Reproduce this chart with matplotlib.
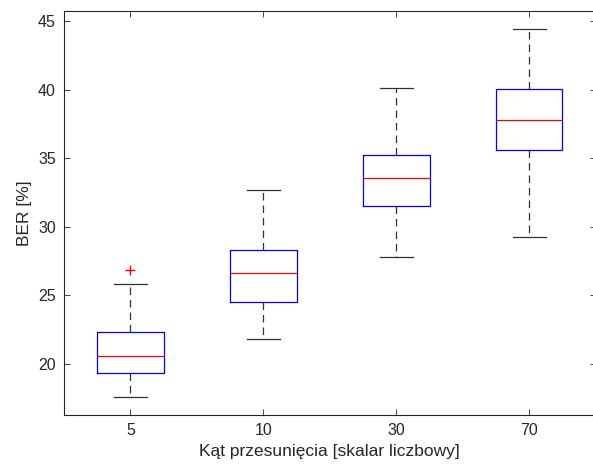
import matplotlib.pyplot as plt

# Values
labels = ["5", "10", "30", "70"]
whislo = [17.62, 21.82, 27.8, 29.23]
q1 = [19.37, 24.5, 31.54, 35.58]
med = [20.58, 26.6, 33.53, 37.76]
q3 = [22.35, 28.3, 35.2, 40.04]
whishi = [25.83, 32.68, 40.1, 44.44]
fliers = [[26.83], [], [], []]

plt.rcParams['font.family'] = ['Liberation Sans', 'DejaVu Sans']

stats = []
for i in range(len(labels)):
    stats.append({"label": labels[i], "whislo": whislo[i], "q1": q1[i], "med": med[i],
                  "q3": q3[i], "whishi": whishi[i], "fliers": fliers[i]})

fig = plt.figure(figsize=(5.93, 4.66), dpi=100)
ax = fig.add_axes([0.108, 0.1094, 0.8965, 0.8676])

ax.bxp(stats, positions=[1, 2, 3, 4], widths=0.5,
       boxprops=dict(color="#0000ff", linewidth=0.9),
       medianprops=dict(color="#ff0000", linewidth=0.9),
       whiskerprops=dict(color="#303030", linestyle=(0, (6, 4)), linewidth=0.9),
       capprops=dict(color="#303030", linewidth=0.9),
       capwidths=0.25,
       flierprops=dict(marker="+", markeredgecolor="#ff0000", markersize=7, markeredgewidth=1.0))

ax.set_xlim(0.5, 4.5)
ax.set_ylim(16.28, 45.75)
ax.set_yticks([20, 25, 30, 35, 40, 45])
ax.set_xticks([1, 2, 3, 4])
ax.set_xticklabels(labels)

for s in ax.spines.values():
    s.set_color("#262626")
    s.set_linewidth(0.8)
ax.tick_params(direction="in", top=True, right=True, length=4, width=0.6,
               colors="#262626", labelsize=11.5, pad=6)

ax.set_ylabel("BER [%]", fontsize=12.5, color="#262626")
ax.set_xlabel("Kąt przesunięcia [skalar liczbowy]", fontsize=12.5, color="#262626")

fig.savefig("out.png", dpi=100)
